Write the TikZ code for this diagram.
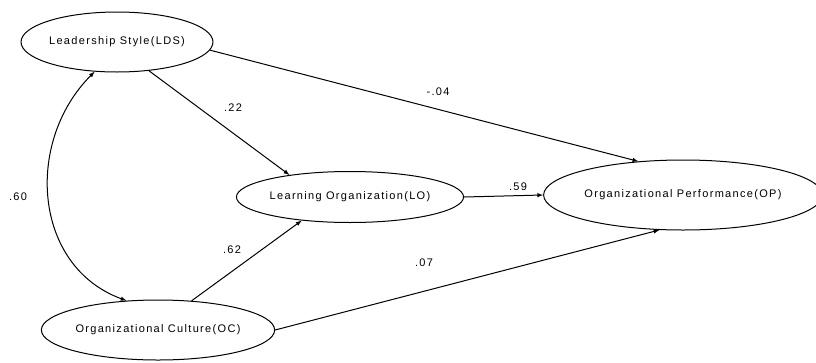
\documentclass[tikz,border=0pt]{standalone}
\usepackage{fontspec}
\setmainfont{Liberation Sans}[LetterSpace=12]
\usetikzlibrary{shapes,arrows,positioning}

\begin{document}
\begin{tikzpicture}[x=1pt, y=-1pt, >=latex, line width=1pt,
    latent/.style={ellipse, draw, inner sep=0pt, font=\fontsize{11}{13}\selectfont},
    coef/.style={font=\fontsize{11}{13}\selectfont}]
    \useasboundingbox (0,0) rectangle (816,362);

    % Define nodes
    \node[latent, minimum width=176pt, minimum height=60pt] (LDS) at (117,42) {Leadership Style(LDS)};
    \node[latent, minimum width=225pt, minimum height=51pt] (LO) at (350,197) {Learning Organization(LO)};
    \node[latent, minimum width=262pt, minimum height=70pt] (OP) at (683,195) {Organizational Performance(OP)};
    \node[latent, minimum width=216pt, minimum height=60pt] (OC) at (158,330) {Organizational Culture(OC)};

    % Straight paths
    \draw[->] (LDS.-42) -- (LO.160);
    \draw[->] (LDS.-5) -- (OP.143);
    \draw[->] (LO.east) -- (OP.west);
    \draw[->] (OC.41) -- (LO.-154);
    \draw[->] (OC.east) -- (OP.-124);

    % Correlation between the exogenous variables
    \draw[<->] (LDS.-127) to[out=225, in=160, looseness=1.1] (OC.137);

    % Path coefficients
    \node[coef] (c22) at (233,108) {.22};
    \node[coef] (c04) at (438,92) {-.04};
    \node[coef] (c59) at (518,187) {.59};
    \node[coef] (c62) at (232,250) {.62};
    \node[coef] (c07) at (424,263) {.07};
    \node[coef] (c60) at (18,197) {.60};
\end{tikzpicture}
\end{document}
